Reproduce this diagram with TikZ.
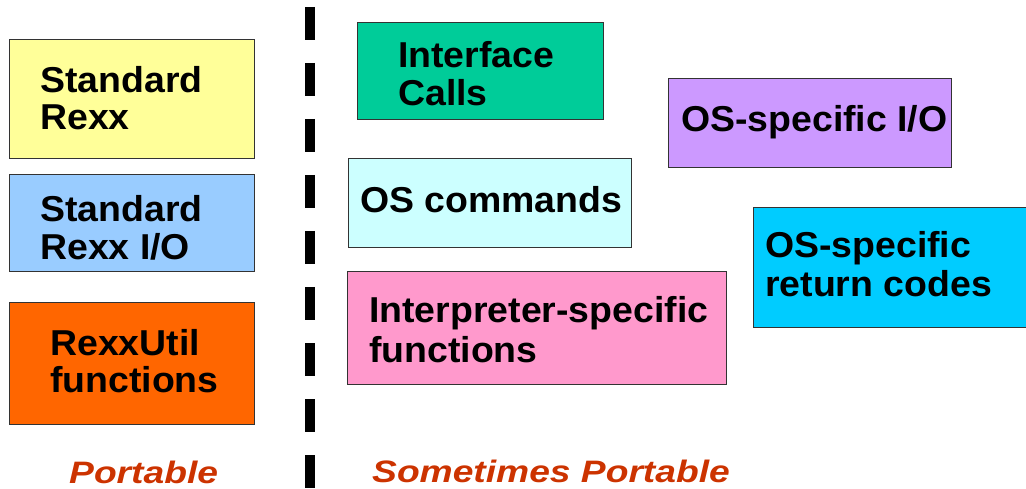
\documentclass[tikz,border=0pt]{standalone}
\usepackage{fontspec}
\newfontfamily\boxfont[FakeStretch=1.04]{Liberation Sans}
\newfontfamily\labfont[FakeStretch=1.2]{Liberation Sans}
\definecolor{cYellow}{HTML}{FFFF99}
\definecolor{cBlue}{HTML}{99CCFF}
\definecolor{cOrange}{HTML}{FF6600}
\definecolor{cGreen}{HTML}{00CC99}
\definecolor{cLav}{HTML}{CC99FF}
\definecolor{cLCyan}{HTML}{CCFFFF}
\definecolor{cCyan}{HTML}{00CCFF}
\definecolor{cPink}{HTML}{FF99CC}
\definecolor{cLab}{HTML}{CC3300}
\tikzset{
  boxshape/.style={draw=black!80, line width=1pt},
  boxtext/.style={anchor=base west, inner sep=0pt, font=\boxfont\bfseries\fontsize{36}{38}\selectfont},
  labtext/.style={anchor=base west, inner sep=0pt, text=cLab, font=\labfont\bfseries\itshape\fontsize{31}{36}\selectfont},
  divider/.style={line width=10pt, dash pattern=on 33pt off 23pt}
}
\begin{document}
\begin{tikzpicture}[x=1pt,y=-1pt]
\useasboundingbox (0,0) rectangle (1026,489);
\clip (0,0) rectangle (1026,489);
% divider
\coordinate (dtop) at (310,7);
\coordinate (dbot) at (310,492);
\draw[divider] (dtop) -- (dbot);
% left boxes
\draw[boxshape, fill=cYellow] (9,40) rectangle (254,159);
\node[boxtext] (sr1) at (40,93) {Standard};
\node[boxtext] (sr2) at (40,130) {Rexx};
\draw[boxshape, fill=cBlue] (9,175) rectangle (254,272);
\node[boxtext] (sio1) at (40,222) {Standard};
\node[boxtext] (sio2) at (40,260) {Rexx I/O};
\draw[boxshape, fill=cOrange] (9,303) rectangle (254,424);
\node[boxtext] (ru1) at (50,355) {RexxUtil};
\node[boxtext] (ru2) at (50,392) {functions};
% right boxes
\draw[boxshape, fill=cGreen] (357,23) rectangle (603,120);
\node[boxtext] (ic1) at (398,68) {Interface};
\node[boxtext] (ic2) at (398,106) {Calls};
\draw[boxshape, fill=cLav] (668,79) rectangle (951,168);
\node[boxtext] (osio) at (681,132) {OS-specific I/O};
\draw[boxshape, fill=cLCyan] (348,159) rectangle (631,248);
\node[boxtext] (oscmd) at (360,213) {OS commands};
\draw[boxshape, fill=cCyan] (753,208) rectangle (1040,327);
\node[boxtext] (osrc1) at (765,258) {OS-specific};
\node[boxtext] (osrc2) at (765,297) {return codes};
\draw[boxshape, fill=cPink] (347,272) rectangle (726,384);
\node[boxtext] (isf1) at (369,323) {Interpreter-specific};
\node[boxtext] (isf2) at (369,362) {functions};
% labels
\node[labtext] (port) at (69,483) {Portable};
\node[labtext] (sport) at (372,482) {Sometimes Portable};
\end{tikzpicture}
\end{document}
